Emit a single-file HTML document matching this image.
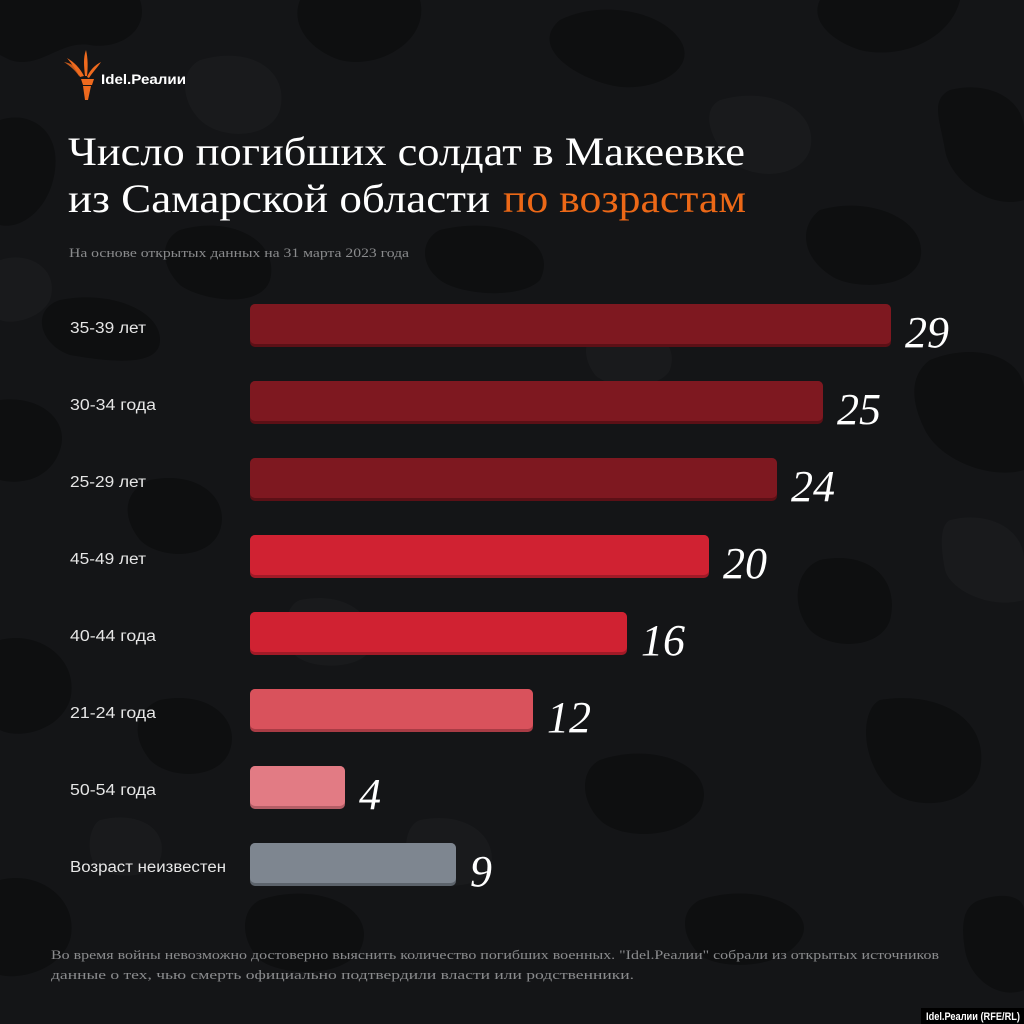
<!DOCTYPE html>
<html><head><meta charset="utf-8"><style>
html,body{margin:0;padding:0;background:#131416;}
svg{display:block;}
</style></head><body>
<svg width="1024" height="1024" viewBox="0 0 1024 1024" xmlns="http://www.w3.org/2000/svg">
<rect width="1024" height="1024" fill="#141517"/>
<!-- camo blobs -->
<g fill="#0e0f10">
<path d="M0,0 L140,0 C150,30 120,50 90,45 C60,40 40,70 10,60 L0,55Z"/>
<path d="M300,0 L420,0 C430,40 380,70 340,60 C310,50 290,25 300,0Z"/>
<path d="M560,20 C600,0 660,10 680,40 C700,70 650,95 610,85 C570,75 530,45 560,20Z"/>
<path d="M820,0 L960,0 C950,40 900,60 860,50 C830,40 810,20 820,0Z"/>
<path d="M950,90 C990,80 1024,100 1024,130 L1024,200 C990,210 950,180 945,150 C940,120 930,100 950,90Z"/>
<path d="M0,120 C30,110 60,130 55,170 C50,210 20,230 0,225Z"/>
<path d="M180,230 C230,215 280,240 270,280 C260,310 200,300 180,285 C160,265 160,240 180,230Z"/>
<path d="M440,230 C500,215 560,240 540,280 C520,300 460,295 440,280 C420,265 420,240 440,230Z"/>
<path d="M820,210 C870,195 930,220 920,260 C910,290 850,290 830,275 C800,255 800,225 820,210Z"/>
<path d="M60,300 C110,290 160,310 160,340 C160,370 100,360 70,355 C40,345 30,310 60,300Z"/>
<path d="M0,400 C40,395 70,420 60,450 C50,480 20,485 0,480Z"/>
<path d="M930,360 C980,340 1024,360 1024,390 L1024,470 C990,480 940,460 925,430 C910,400 910,375 930,360Z"/>
<path d="M150,480 C200,470 230,500 220,530 C210,560 160,560 140,540 C120,515 125,490 150,480Z"/>
<path d="M820,560 C870,550 900,580 890,620 C880,650 830,650 810,630 C790,605 795,570 820,560Z"/>
<path d="M0,640 C40,630 80,660 70,700 C60,730 20,740 0,730Z"/>
<path d="M160,700 C210,690 240,720 230,750 C220,780 170,780 150,760 C130,735 135,710 160,700Z"/>
<path d="M600,760 C660,740 720,770 700,810 C680,840 620,840 600,820 C580,800 580,770 600,760Z"/>
<path d="M880,700 C940,690 990,720 980,770 C970,810 910,810 890,790 C860,760 860,710 880,700Z"/>
<path d="M260,900 C320,880 380,910 360,950 C340,980 280,975 260,960 C240,940 240,910 260,900Z"/>
<path d="M700,900 C760,880 820,910 800,940 C780,970 720,970 700,955 C680,935 680,910 700,900Z"/>
<path d="M0,880 C40,870 80,900 70,940 C60,970 20,980 0,975Z"/>
<path d="M980,900 C1010,890 1024,900 1024,910 L1024,990 C1000,1000 970,980 965,950 C960,920 965,905 980,900Z"/>
</g>
<g fill="#191a1c">
<path d="M200,60 C250,45 290,70 280,110 C270,140 220,140 200,120 C180,100 180,70 200,60Z"/>
<path d="M720,100 C770,85 820,110 810,150 C800,180 750,180 730,160 C710,140 700,110 720,100Z"/>
<path d="M0,260 C30,250 60,270 50,300 C40,320 10,325 0,320Z"/>
<path d="M600,330 C650,320 680,340 670,370 C660,390 610,390 595,375 C580,355 585,335 600,330Z"/>
<path d="M300,600 C350,590 380,620 370,650 C360,670 310,670 295,655 C280,635 285,605 300,600Z"/>
<path d="M950,520 C990,510 1024,530 1024,560 L1024,600 C990,610 950,590 945,570 C940,545 940,525 950,520Z"/>
<path d="M420,820 C470,810 500,840 490,870 C480,890 430,890 415,875 C400,855 405,825 420,820Z"/>
<path d="M100,820 C140,810 170,830 160,860 C150,880 110,880 95,865 C85,850 90,825 100,820Z"/>
</g>

<!-- logo -->
<g fill="#ef6a1e">
<path d="M84,76 C80,68 74,62 67,58 C72,64 76,70 80,77Z"/>
<path d="M85,76 C84,66 83,58 86,50 C88,58 88,68 87,76Z"/>
<path d="M87,77 C90,70 95,65 101,62 C97,68 92,73 89,78Z"/>
<path d="M80,72 C76,66 70,63 64,62 C70,66 75,70 79,76Z" opacity="0.8"/>
<path d="M81,79 L94,79 L92,85 L83,85Z"/>
<path d="M83,86 L91,86 L88,100 L85,100Z"/>
</g>
<text x="101" y="84" font-family="Liberation Sans, sans-serif" font-weight="bold" font-size="14" fill="#ffffff" textLength="85" lengthAdjust="spacingAndGlyphs">Idel.Реалии</text>

<!-- title -->
<text x="68" y="165" font-family="Liberation Serif, serif" font-size="40" fill="#ffffff" textLength="677" lengthAdjust="spacingAndGlyphs">Число погибших солдат в Макеевке</text>
<text x="68" y="212" font-family="Liberation Serif, serif" font-size="40" fill="#ffffff" textLength="422" lengthAdjust="spacingAndGlyphs">из Самарской области</text>
<text x="503" y="212" font-family="Liberation Serif, serif" font-size="40" fill="#ec6817" textLength="243" lengthAdjust="spacingAndGlyphs">по возрастам</text>

<text x="69" y="257" font-family="Liberation Serif, serif" font-size="13" fill="#8a8b8d" textLength="340" lengthAdjust="spacingAndGlyphs">На основе открытых данных на 31 марта 2023 года</text>

<!-- bars -->
<g font-family="Liberation Sans, sans-serif" font-size="15.5" fill="#e6e6e6">
<text x="70" y="333" textLength="76" lengthAdjust="spacingAndGlyphs">35-39 лет</text>
<text x="70" y="410" textLength="86" lengthAdjust="spacingAndGlyphs">30-34 года</text>
<text x="70" y="487" textLength="76" lengthAdjust="spacingAndGlyphs">25-29 лет</text>
<text x="70" y="564" textLength="76" lengthAdjust="spacingAndGlyphs">45-49 лет</text>
<text x="70" y="641" textLength="86" lengthAdjust="spacingAndGlyphs">40-44 года</text>
<text x="70" y="718" textLength="86" lengthAdjust="spacingAndGlyphs">21-24 года</text>
<text x="70" y="795" textLength="86" lengthAdjust="spacingAndGlyphs">50-54 года</text>
<text x="70" y="872" textLength="156" lengthAdjust="spacingAndGlyphs">Возраст неизвестен</text>
</g>

<g>
<rect x="250" y="304" width="641" height="43" rx="5" fill="#5c1016"/>
<rect x="250" y="304" width="641" height="40" rx="5" fill="#7e1820"/>
<rect x="250" y="381" width="573" height="43" rx="5" fill="#5c1016"/>
<rect x="250" y="381" width="573" height="40" rx="5" fill="#7e1820"/>
<rect x="250" y="458" width="527" height="43" rx="5" fill="#5c1016"/>
<rect x="250" y="458" width="527" height="40" rx="5" fill="#7e1820"/>
<rect x="250" y="535" width="459" height="43" rx="5" fill="#a11a27"/>
<rect x="250" y="535" width="459" height="40" rx="5" fill="#d02232"/>
<rect x="250" y="612" width="377" height="43" rx="5" fill="#a11a27"/>
<rect x="250" y="612" width="377" height="40" rx="5" fill="#d02232"/>
<rect x="250" y="689" width="283" height="43" rx="5" fill="#a93c45"/>
<rect x="250" y="689" width="283" height="40" rx="5" fill="#d9525c"/>
<rect x="250" y="766" width="95" height="43" rx="5" fill="#b35e66"/>
<rect x="250" y="766" width="95" height="40" rx="5" fill="#e27b84"/>
<rect x="250" y="843" width="206" height="43" rx="5" fill="#5c636b"/>
<rect x="250" y="843" width="206" height="40" rx="5" fill="#7e8690"/>
</g>

<g font-family="Liberation Serif, serif" font-style="italic" font-size="44" fill="#ffffff">
<text x="905" y="347">29</text>
<text x="837" y="424">25</text>
<text x="791" y="501">24</text>
<text x="723" y="578">20</text>
<text x="641" y="655">16</text>
<text x="547" y="732">12</text>
<text x="359" y="809">4</text>
<text x="470" y="886">9</text>
</g>

<!-- footer -->
<g font-family="Liberation Serif, serif" font-size="13" fill="#8a8b8d">
<text x="51" y="959" textLength="888" lengthAdjust="spacingAndGlyphs">Во время войны невозможно достоверно выяснить количество погибших военных. "Idel.Реалии" собрали из открытых источников</text>
<text x="51" y="979" textLength="583" lengthAdjust="spacingAndGlyphs">данные о тех, чью смерть официально подтвердили власти или родственники.</text>
</g>
<rect x="921" y="1008" width="103" height="16" fill="#000000"/>
<text x="926" y="1020" font-family="Liberation Sans, sans-serif" font-weight="bold" font-size="11" fill="#ffffff" textLength="94" lengthAdjust="spacingAndGlyphs">Idel.Реалии (RFE/RL)</text>
</svg>
</body></html>
